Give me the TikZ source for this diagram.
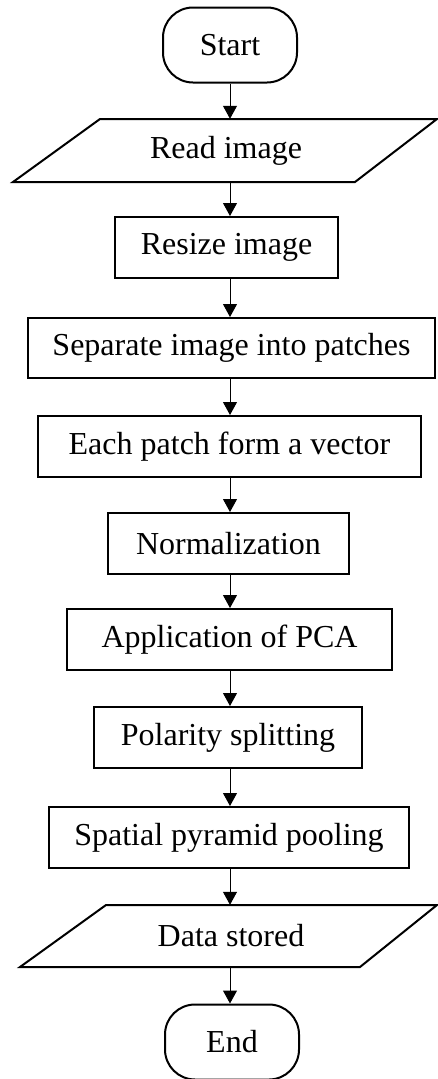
\documentclass[tikz,border=0pt]{standalone}
\usepackage{fontspec}
\setmainfont{Liberation Serif}
\usetikzlibrary{arrows.meta}
\begin{document}
\begin{tikzpicture}[x=1pt,y=-1pt,
  every node/.style={font=\fontsize{32}{38}\selectfont, inner sep=0pt},
  procbox/.style={draw, line width=2pt, rectangle},
  termbox/.style={draw, line width=2pt, rounded corners=30pt, minimum width=134pt, minimum height=75pt},
  iobox/.style={draw, line width=2pt, line join=miter},
  flow/.style={line width=1pt, -{Triangle[length=13pt,width=14pt]}}]
\useasboundingbox (0,0) rectangle (437,1079);

\node[termbox] (start) at (230,45) {Start};

\draw[iobox] (100,119) -- (437,119) -- (355,182) -- (13,182) -- cycle;
\node[minimum width=250pt, minimum height=63pt] (read) at (226,150.5) {Read image};

\node[procbox, minimum width=223pt, minimum height=61pt] (resize) at (226.5,247.5) {Resize image};
\node[procbox, minimum width=407pt, minimum height=60pt] (sep) at (231.5,348) {Separate image into patches};
\node[procbox, minimum width=383pt, minimum height=61pt] (each) at (229.5,446.5) {Each patch form a vector};
\node[procbox, minimum width=241pt, minimum height=61pt] (norm) at (228.5,543.5) {Normalization};
\node[procbox, minimum width=325pt, minimum height=61pt] (pca) at (229.5,639.5) {Application of PCA};
\node[procbox, minimum width=268pt, minimum height=61pt] (pol) at (228,737.5) {Polarity splitting};
\node[procbox, minimum width=360pt, minimum height=61pt] (spp) at (229,837.5) {Spatial pyramid pooling};

\draw[iobox] (106,905) -- (437,905) -- (360,967) -- (20,967) -- cycle;
\node[minimum width=250pt, minimum height=62pt] (data) at (231,936) {Data stored};

\node[termbox] (end) at (232,1042) {End};

\coordinate (ax) at (230,0);
\draw[flow] (start.south -| ax) -- (read.north -| ax);
\draw[flow] (read.south -| ax) -- (resize.north -| ax);
\draw[flow] (resize.south -| ax) -- (sep.north -| ax);
\draw[flow] (sep.south -| ax) -- (each.north -| ax);
\draw[flow] (each.south -| ax) -- (norm.north -| ax);
\draw[flow] (norm.south -| ax) -- (pca.north -| ax);
\draw[flow] (pca.south -| ax) -- (pol.north -| ax);
\draw[flow] (pol.south -| ax) -- (spp.north -| ax);
\draw[flow] (spp.south -| ax) -- (data.north -| ax);
\draw[flow] (data.south -| ax) -- (end.north -| ax);
\end{tikzpicture}
\end{document}
